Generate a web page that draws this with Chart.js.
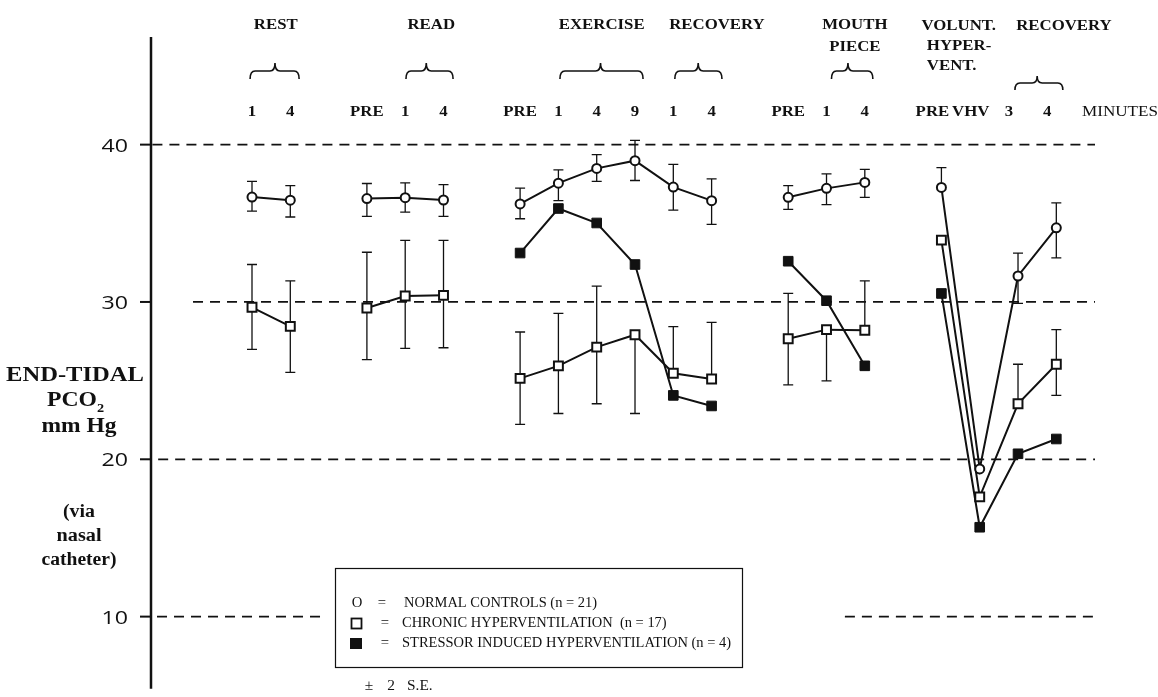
<!DOCTYPE html>
<html>
<head>
<meta charset="utf-8">
<title>End-tidal PCO2</title>
<script src="https://cdn.jsdelivr.net/npm/chart.js@4.4.1/dist/chart.umd.min.js"></script>
<style>
  html, body { margin: 0; padding: 0; background: #ffffff; }
  #wrap { width: 1158px; height: 697px; position: relative; }
</style>
</head>
<body>
<div id="wrap"><canvas id="c" width="1158" height="697"></canvas></div>
<script>
// Minute labels, one per slot along the top; '' is a spacer slot between phases
const minuteLabels = ['1','4','','PRE','1','4','','PRE','1','4','9','1','4','','PRE','1','4','','PRE','VHV','3','4'];

// Phase headings (text lines)
const phaseNames = [['REST'], ['READ'], ['EXERCISE'], ['RECOVERY'], ['MOUTH', 'PIECE'], ['VOLUNT.', 'HYPER-', 'VENT.'], ['RECOVERY']];

// Y axis ticks (mm Hg)
const yTicks = [10, 20, 30, 40];

// Mean end-tidal PCO2 per slot
const normal   = [36.67, 36.47, null, 36.57, 36.63, 36.48, null, 36.23, 37.55, 38.49, 38.98, 37.30, 36.44, null, 36.65, 37.22, 37.60, null, 37.28, 19.39, 31.65, 34.71];
const chronic  = [29.66, 28.45, null, 29.62, 30.38, 30.42, null, 25.14, 25.94, 27.13, 27.92, 25.47, 25.10, null, 27.66, 28.24, 28.20, null, 33.93, 17.61, 23.53, 26.04];
const stressor = [null, null, null, null, null, null, null, 33.11, 35.94, 35.02, 32.38, 24.06, 23.39, null, 32.59, 30.08, 25.94, null, 30.54, 15.68, 20.35, 21.29];

// ±2 S.E. whiskers (upward / downward lengths; null = whisker not drawn)
const normalUp    = [0.99, 0.93, null, 0.96, 0.94, 0.98, null, 1.01, 0.84, 0.88, 1.29, 1.44, 1.38, null, 0.74, 0.92, 0.83, null, 1.26, null, 1.46, 1.59];
const normalDown  = [0.90, 1.07, null, 1.13, 0.92, 1.04, null, 0.94, 1.11, 0.83, 1.26, 1.46, 1.51, null, 0.77, 1.03, 0.95, null, null, null, 1.74, 1.91];
const chronicUp   = [2.72, 2.89, null, 3.54, 3.53, 3.49, null, 2.95, 3.33, 3.87, null, 2.96, 3.60, null, 2.88, null, 3.14, null, null, null, 2.51, 2.20];
const chronicDown = [2.67, 2.93, null, 3.29, 3.33, 3.33, null, 2.92, 3.03, 3.60, 5.01, null, null, null, 2.93, 3.26, null, null, null, null, null, 1.98];

// Legend entries
const legendText = ['NORMAL CONTROLS (n = 21)', 'CHRONIC HYPERVENTILATION  (n = 17)', 'STRESSOR INDUCED HYPERVENTILATION (n = 4)'];

const INK = '#111111';
const SERIF = '"Liberation Serif", "Times New Roman", serif';

function toPoints(vals) { return vals.map((v, i) => ({ x: i, y: v })); }

// text drawn with an optional horizontal stretch
function drawText(ctx, s, x, y, font, align, sx) {
  ctx.save();
  ctx.font = font;
  const w = ctx.measureText(s).width * sx;
  const x0 = align === 'center' ? x - w / 2 : (align === 'right' ? x - w : x);
  ctx.translate(x0, y);
  ctx.scale(sx, 1);
  ctx.textAlign = 'left';
  ctx.textBaseline = 'alphabetic';
  ctx.fillStyle = INK;
  ctx.fillText(s, 0, 0);
  ctx.restore();
  return w;
}
// text stretched to a given width
function drawFit(ctx, s, x, y, font, align, width) {
  ctx.save(); ctx.font = font;
  const w = ctx.measureText(s).width;
  ctx.restore();
  return drawText(ctx, s, x, y, font, align, width / w);
}

function brace(ctx, x0, x1, xm, yTop, yBot) {
  const yMid = (yTop + yBot) / 2;
  const r = 5;
  ctx.beginPath();
  ctx.moveTo(x0, yBot);
  ctx.quadraticCurveTo(x0, yMid, x0 + r, yMid);
  ctx.lineTo(xm - r, yMid);
  ctx.quadraticCurveTo(xm, yMid, xm, yTop);
  ctx.quadraticCurveTo(xm, yMid, xm + r, yMid);
  ctx.lineTo(x1 - r, yMid);
  ctx.quadraticCurveTo(x1, yMid, x1, yBot);
  ctx.stroke();
}

const decorations = {
  id: 'decorations',
  beforeDatasetsDraw(chart) {
    const ctx = chart.ctx;
    const xs = chart.scales.x, ys = chart.scales.y;
    const X = v => xs.getPixelForValue(v);
    const Y = v => ys.getPixelForValue(v);

    // dashed reference lines
    const runs = [
      { v: 40, segs: [[-2.60, xs.max]] },
      { v: 30, segs: [[-1.54, xs.max]] },
      { v: 20, segs: [[-2.45, xs.max]] },
      { v: 10, segs: [[-2.48, 1.83], [15.48, xs.max]] }
    ];
    ctx.save();
    ctx.strokeStyle = INK;
    ctx.lineWidth = 1.8;
    ctx.setLineDash([10, 7]);
    runs.forEach(r => r.segs.forEach(([a, b]) => {
      ctx.beginPath();
      ctx.moveTo(X(a), Y(r.v));
      ctx.lineTo(X(b), Y(r.v));
      ctx.stroke();
    }));
    ctx.restore();

    // error whiskers
    const whiskers = [[normal, normalUp, normalDown], [chronic, chronicUp, chronicDown]];
    ctx.save();
    ctx.strokeStyle = INK;
    ctx.lineWidth = 1.3;
    whiskers.forEach(([mean, up, down]) => {
      mean.forEach((m, i) => {
        if (m === null) return;
        const px = X(i);
        [[up[i], 1], [down[i], -1]].forEach(([len, dir]) => {
          if (len === null) return;
          const yEnd = Y(m + dir * len);
          ctx.beginPath();
          ctx.moveTo(px, Y(m));
          ctx.lineTo(px, yEnd);
          ctx.moveTo(px - 5, yEnd);
          ctx.lineTo(px + 5, yEnd);
          ctx.stroke();
        });
      });
    });
    ctx.restore();
  },
  afterDatasetsDraw(chart) {
    const ctx = chart.ctx;
    const xs = chart.scales.x, ys = chart.scales.y;
    const area = chart.chartArea;
    const X = v => xs.getPixelForValue(v);
    const Y = v => ys.getPixelForValue(v);

    // vertical axis with ticks and labels
    ctx.save();
    ctx.strokeStyle = INK;
    ctx.lineWidth = 2.5;
    ctx.beginPath();
    ctx.moveTo(area.left, area.top);
    ctx.lineTo(area.left, area.bottom);
    ctx.stroke();
    ctx.lineWidth = 2;
    yTicks.forEach(t => {
      ctx.beginPath();
      ctx.moveTo(area.left - 11, Y(t));
      ctx.lineTo(area.left, Y(t));
      ctx.stroke();
      drawText(ctx, String(t), area.left - 23, Y(t) + 7, '19px "Open Sans", "DejaVu Sans", sans-serif', 'right', 1.22);
    });
    ctx.restore();

    // y axis title
    const bold = s => 'bold ' + s + 'px ' + SERIF;
    drawFit(ctx, 'END-TIDAL', 75, 381, bold(20), 'center', 138);
    const wPCO = drawFit(ctx, 'PCO', 72, 406, bold(20), 'center', 50);
    drawText(ctx, '2', 72 + wPCO / 2, 412, bold(13), 'left', 1.1);
    drawFit(ctx, 'mm Hg', 79, 432, bold(20), 'center', 75);
    drawFit(ctx, '(via', 79, 517, bold(18), 'center', 32);
    drawFit(ctx, 'nasal', 79, 541, bold(18), 'center', 45);
    drawFit(ctx, 'catheter)', 79, 565, bold(18), 'center', 75);

    // phase headings and braces
    const headFont = bold(15);
    const SX = 1.12;
    const braces = [
      [-0.05, 1.23, 0.60, 63, 79],
      [4.02, 5.25, 4.55, 63, 79],
      [8.04, 10.21, 9.10, 63, 79],
      [11.04, 12.27, 11.65, 63, 79],
      [15.13, 16.21, 15.56, 63, 79],
      [19.92, 21.17, 20.50, 76, 90]
    ];
    ctx.save();
    ctx.strokeStyle = INK;
    ctx.lineWidth = 1.6;
    braces.forEach(([a, b, m, t, btm]) => brace(ctx, X(a), X(b), X(m), t, btm));
    ctx.restore();

    const headCentres = [0.62, 4.68, 9.13, 12.14, 15.74];
    headCentres.forEach((c, k) => {
      phaseNames[k].forEach((line, j) => drawText(ctx, line, X(c), 29 + j * 22, headFont, 'center', SX));
    });
    const vh = phaseNames[5];
    drawText(ctx, vh[0], X(17.48), 30, headFont, 'left', SX);
    drawText(ctx, vh[1], X(17.62), 50, headFont, 'left', SX);
    drawText(ctx, vh[2], X(17.62), 70, headFont, 'left', SX);
    drawText(ctx, phaseNames[6][0], X(21.20), 30, headFont, 'center', SX);

    // minute labels
    minuteLabels.forEach((lab, i) => {
      if (!lab) return;
      const shift = i >= 18 ? -9 : 0;
      drawText(ctx, lab, X(i) + shift, 116, headFont, 'center', SX);
    });
    drawText(ctx, 'MINUTES', 1082, 116, '15px ' + SERIF, 'left', 1.14);

    // legend box
    ctx.save();
    ctx.fillStyle = '#ffffff';
    ctx.fillRect(335, 568, 407, 99);
    ctx.strokeStyle = INK;
    ctx.lineWidth = 1.2;
    ctx.strokeRect(335.5, 568.5, 407, 99);
    ctx.restore();

    const legFont = '14px ' + SERIF;
    ctx.save(); ctx.font = legFont;
    const legSX = 329 / ctx.measureText(legendText[2]).width;
    ctx.restore();
    drawText(ctx, 'O', 357, 607, legFont, 'center', 1.05);
    drawText(ctx, '=', 382, 607, legFont, 'center', 1.05);
    drawText(ctx, legendText[0], 404, 607, legFont, 'left', legSX);
    ctx.save();
    ctx.strokeStyle = INK; ctx.lineWidth = 1.8;
    ctx.strokeRect(351.5, 618.5, 10, 10);
    ctx.fillStyle = INK;
    ctx.fillRect(350, 638, 12, 11);
    ctx.restore();
    drawText(ctx, '=', 385, 627, legFont, 'center', 1.05);
    drawText(ctx, legendText[1], 402, 627, legFont, 'left', legSX);
    drawText(ctx, '=', 385, 647, legFont, 'center', 1.05);
    drawText(ctx, legendText[2], 402, 647, legFont, 'left', legSX);

    drawText(ctx, '±', 369, 690, legFont, 'center', 1.1);
    drawText(ctx, '2', 391, 690, legFont, 'center', 1.1);
    drawText(ctx, 'S.E.', 407, 690, legFont, 'left', 1.1);
  }
};

const common = {
  borderColor: INK,
  borderWidth: 2,
  pointBorderColor: INK,
  pointBorderWidth: 2,
  spanGaps: false,
  tension: 0,
  fill: false
};

new Chart(document.getElementById('c'), {
  type: 'line',
  data: {
    datasets: [
      Object.assign({ label: legendText[0], data: toPoints(normal), pointStyle: 'circle', pointRadius: 4.5, pointBackgroundColor: '#ffffff' }, common),
      Object.assign({ label: legendText[1], data: toPoints(chronic), pointStyle: 'rect', pointRadius: 6.3, pointBackgroundColor: '#ffffff' }, common),
      Object.assign({ label: legendText[2], data: toPoints(stressor), pointStyle: 'rect', pointRadius: 6.8, pointBackgroundColor: INK }, common, { pointBorderWidth: 1 })
    ]
  },
  options: {
    responsive: false,
    animation: false,
    devicePixelRatio: 1,
    layout: { padding: { left: 151, right: 63, top: 37, bottom: 0 } },
    scales: {
      x: { type: 'linear', display: false, min: -2.637, max: 22.01 },
      y: { type: 'linear', display: false, min: 5.418, max: 46.841 }
    },
    plugins: { legend: { display: false }, tooltip: { enabled: false } }
  },
  plugins: [decorations]
});
</script>
</body>
</html>
